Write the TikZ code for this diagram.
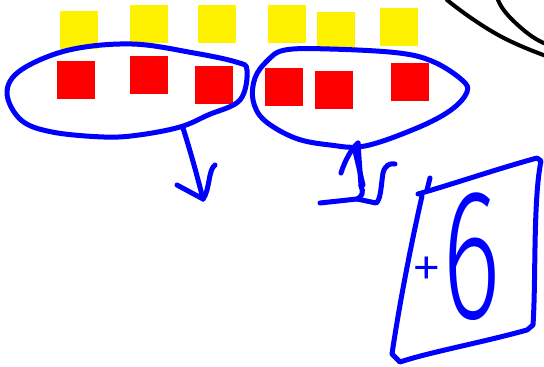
\documentclass[tikz,border=0pt]{standalone}
\usepackage{fontspec}
\setsansfont{Fira Sans Light}
\usepackage{tikz}

\begin{document}
\begin{tikzpicture}[x=1pt, y=-1pt,
    tile/.style={minimum width=38pt, minimum height=38pt, inner sep=0pt, outer sep=0pt},
    ink/.style={draw=blue, line width=5pt, line cap=round, line join=round},
    pen/.style={draw=black, line width=4pt, line cap=round}]
        \useasboundingbox (0,0) rectangle (544,367);

        % top row
        \node[tile, fill=yellow] (y1) at (79,30)    {};
        \node[tile, fill=yellow] (y2) at (149,23.5) {};
        \node[tile, fill=yellow] (y3) at (217,23.5) {};
        \node[tile, fill=yellow] (y4) at (287,23.5) {};
        \node[tile, fill=yellow] (y5) at (335.5,30.5) {};
        \node[tile, fill=yellow] (y6) at (399,26.5) {};

        % bottom row
        \node[tile, fill=red] (r1) at (76,80)    {};
        \node[tile, fill=red] (r2) at (149,75)   {};
        \node[tile, fill=red] (r3) at (214,84.5) {};
        \node[tile, fill=red] (r4) at (284,86.5) {};
        \node[tile, fill=red] (r5) at (334,90)   {};
        \node[tile, fill=red] (r6) at (410,81.5) {};

        % loops round the groups
        \draw[ink] plot[smooth cycle, tension=0.6] coordinates {(7,93) (21,70) (69,50) (132,44) (194,53) (236,62) (247,70) (240,100) (208,115) (180,127) (139,135) (104,137) (52,132) (21,120)};
        \draw[ink] plot[smooth cycle, tension=0.6] coordinates {(255,78) (267,61) (285,50) (330,49) (399,53) (434,62) (462,80) (467,92) (451,110) (417,128) (365,146) (330,145) (295,138) (264,120) (253,100)};

        % down arrow
        \coordinate (a1) at (183,128);
        \coordinate (a2) at (203,199);
        \draw[ink] (a1) .. controls (190,150) and (197,175) .. (a2);
        \draw[ink] (177,185) -- (a2);
        \draw[ink] (215,165) .. controls (208,170) and (210,190) .. (a2);

        % up arrow
        \coordinate (b1) at (358,143);
        \coordinate (b2) at (361,186);
        \draw[ink] (b1) -- (b2);
        \draw[ink] (341,173) .. controls (345,160) and (352,148) .. (b1);
        \draw[ink] (355,151) -- (363,185);
        \draw[ink] (b2) .. controls (364,192) and (362,197) .. (357,199) -- (320,203);
        \draw[ink] (357,199) -- (376,203) .. controls (381,200) and (381,185) .. (383,173) .. controls (385,165) and (390,163) .. (395,164);

        % box
        \draw[ink] (430,178) -- (427,190);
        \draw[ink] (418,194) .. controls (450,185) and (500,168) .. (537,158) -- (541,161)
            .. controls (533,200) and (536,280) .. (533,325) -- (527,330)
            .. controls (480,343) and (430,352) .. (400,362) -- (392,354)
            .. controls (400,300) and (412,240) .. (422,196);
        \node[text=blue, font=\sffamily, inner sep=0pt] (plus6) at (456,257)
            {\raisebox{30pt}{\fontsize{62}{62}\selectfont+}\scalebox{0.6}[1]{\fontsize{186}{186}\selectfont 6}};

        % corner strokes
        \draw[pen] (447,0) .. controls (462,12) and (480,25) .. (500,36) .. controls (515,44) and (530,50) .. (546,56);
        \draw[pen] (498,0) .. controls (502,10) and (510,18) .. (520,27) .. controls (528,34) and (536,40) .. (546,44);
\end{tikzpicture}
\end{document}
